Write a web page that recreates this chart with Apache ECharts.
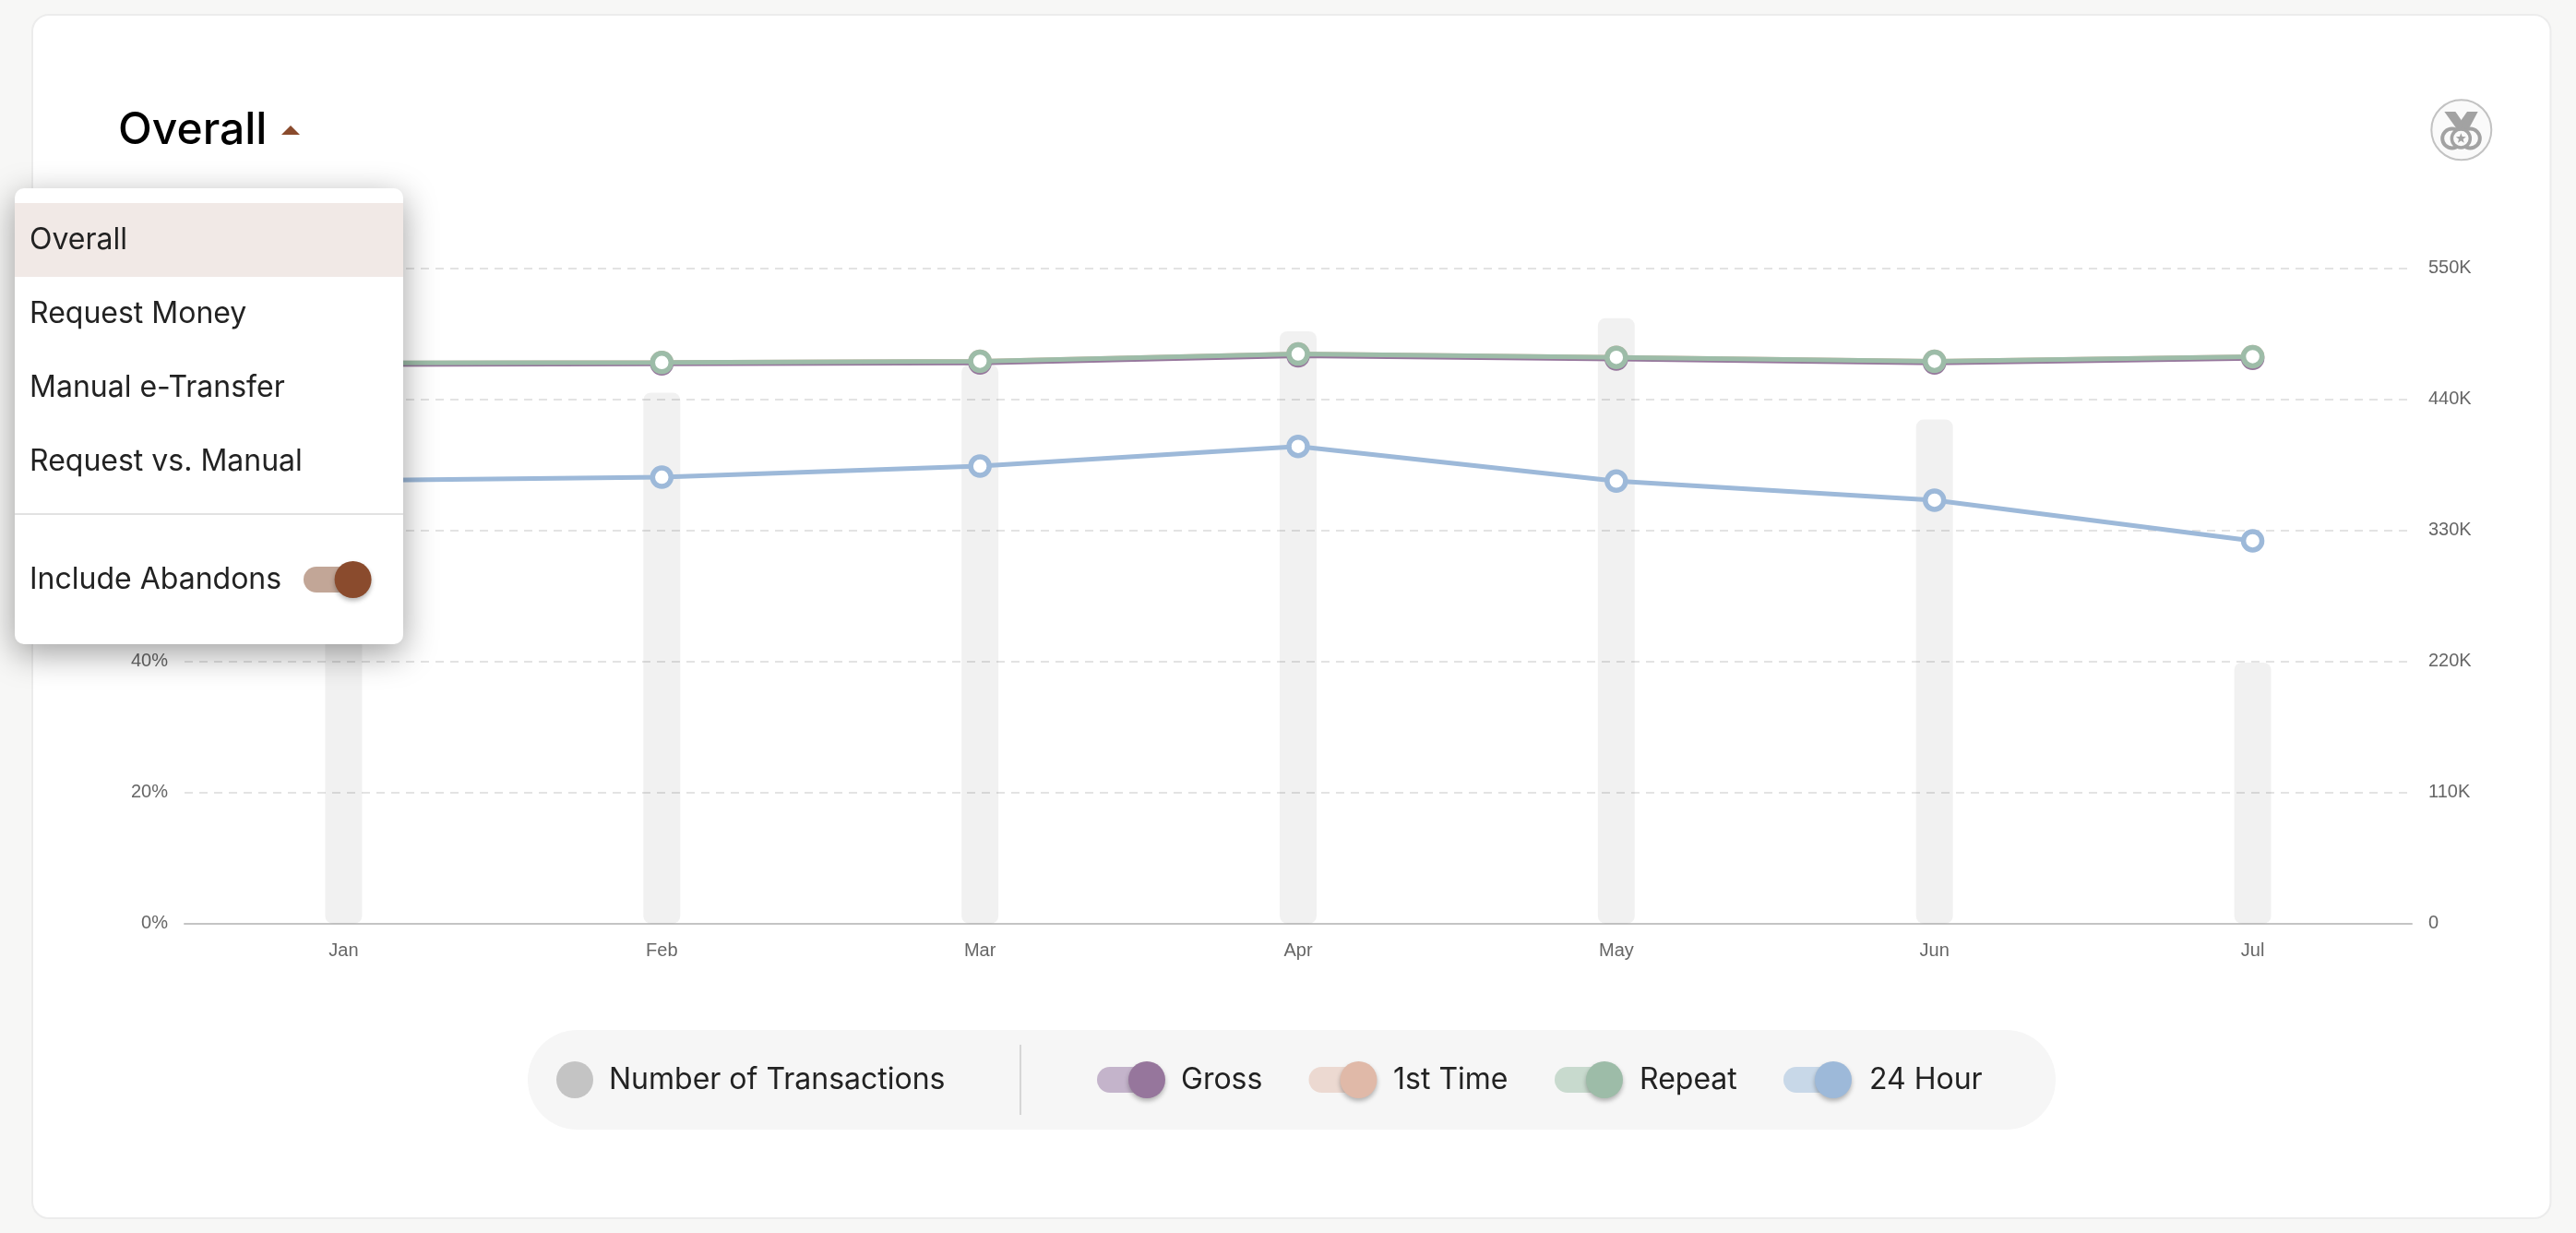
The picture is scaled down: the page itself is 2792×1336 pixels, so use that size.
<!DOCTYPE html>
<html>
<head>
<meta charset="utf-8">
<style>html,body{margin:0;padding:0;background:#f7f7f6}#c{width:2792px;height:1336px}</style>
<script src="https://cdn.jsdelivr.net/npm/echarts@6/dist/echarts.min.js"></script>
</head>
<body>
<div id="c"></div>
<script>
const months = ['Jan','Feb','Mar','Apr','May','Jun','Jul'];
const transactions = [465000,445500,469000,497000,508000,423000,219000];
const gross = [85.3,85.4,85.55,86.65,86.15,85.55,86.25];
const firstTime = [85.5,85.6,85.8,86.9,86.4,85.8,86.5];
const repeat = [85.55,85.6,85.8,86.9,86.4,85.8,86.5];
const hour24 = [67.6,68.1,69.8,72.8,67.5,64.6,58.4];
const menuItems = ['Overall','Request Money','Manual e-Transfer','Request vs. Manual'];
const leftTicks = {min:0,max:100,interval:20};
const rightTicks = {min:0,max:550000,interval:110000};

const C = {gross:'#96769c',first:'#e0b9a8',repeat:'#9dbca8',hour:'#9db9d9',brown:'#8a4b2d'};
const UI = 'Inter, "Noto Sans", sans-serif';
const AX = '"Liberation Sans", Arial, sans-serif';

function rect(x,y,w,h,r,fill,z,extra){return {type:'rect',silent:true,z:z,shape:{x,y,width:w,height:h,r:r},style:Object.assign({fill},extra||{})};}
function text(t,x,y,size,fill,z){return {type:'text',silent:true,z:z,style:{text:t,x,y,font:size+'px '+UI,fill,textAlign:'left',textVerticalAlign:'middle'}};}
function circle(cx,cy,r,fill,z,extra){return {type:'circle',silent:true,z:z,shape:{cx,cy,r},style:Object.assign({fill},extra||{})};}
function toggle(x,knobX,cy,pill,knob,z){
  return [
    rect(x,cy-14,knobX-x+6,28,14,pill,z),
    circle(knobX,cy,20,knob,z+1,{shadowBlur:5,shadowOffsetY:3,shadowColor:'rgba(0,0,0,.28)'})
  ];
}
const g = [];
// card
g.push(rect(35,16,2729.5,1304,18,'#ffffff',-5,{stroke:'#ececec',lineWidth:2}));
// title
g.push({type:'text',silent:true,z:5,style:{text:'Overall',x:128,y:142,font:'500 48px '+UI,fill:'#000',textVerticalAlign:'middle'}});
g.push({type:'polygon',silent:true,z:5,shape:{points:[[305,146],[325,146],[315,136]]},style:{fill:C.brown}});
// medal icon
const mx = v=>2620+v/3, my = v=>100+v/3;
const ICON = '#a2a2a2';
g.push(circle(2667.8,140.8,32.5,'#fafafa',5,{stroke:'#c2c2c2',lineWidth:2}));
g.push({type:'polygon',silent:true,z:6,shape:{points:[[88,63],[124,63],[162,118],[135,128]].map(p=>[mx(p[0]),my(p[1])])},style:{fill:ICON}});
g.push({type:'polygon',silent:true,z:6,shape:{points:[[197,63],[162,63],[143,90],[150,128],[168,118]].map(p=>[mx(p[0]),my(p[1])])},style:{fill:ICON}});
g.push(circle(mx(113),my(150),10.5,'none',6,{stroke:ICON,lineWidth:4}));
g.push(circle(mx(172),my(150),10.5,'none',6,{stroke:ICON,lineWidth:4}));
g.push(circle(mx(142),my(150),10,'#fafafa',7,{stroke:ICON,lineWidth:3.5}));
g.push({type:'polygon',silent:true,z:8,shape:{points:(function(){const a=[];for(let i=0;i<10;i++){const r=i%2?2.4:5.8,t=-Math.PI/2+i*Math.PI/5;a.push([mx(142)+r*Math.cos(t),my(150)+r*Math.sin(t)]);}return a;})()},style:{fill:ICON}});
// menu
g.push(rect(16,204,421,494,10,'#ffffff',100,{shadowBlur:36,shadowOffsetY:10,shadowColor:'rgba(0,0,0,.38)'}));
g.push(rect(16,220,421,80,0,'#f1e9e6',101));
menuItems.forEach((t,i)=>g.push(text(t,32,260+i*80,32,'#222222',102)));
g.push(rect(16,556,421,2,0,'#e2e2e2',101));
g.push(text('Include Abandons',32,628,32,'#222222',102));
g.push(...toggle(329,382.6,628,'#c2a697',C.brown,102));
// legend
g.push(rect(572,1116,1656,108,54,'#f6f6f6',5));
g.push(circle(623,1170,20,'#c4c4c4',6));
g.push(text('Number of Transactions',660,1170,32,'#222222',6));
g.push(rect(1105,1132,2,76,0,'#d6d6d6',6));
g.push(...toggle(1189,1243,1170,'#c4b4cb',C.gross,6));
g.push(text('Gross',1280,1170,32,'#222222',6));
g.push(...toggle(1418.5,1472.5,1170,'#ecd9d1',C.first,6));
g.push(text('1st Time',1510,1170,32,'#222222',6));
g.push(...toggle(1685,1739,1170,'#c8dace',C.repeat,6));
g.push(text('Repeat',1777,1170,32,'#222222',6));
g.push(...toggle(1933,1987,1170,'#c8d8e8',C.hour,6));
g.push(text('24 Hour',2026,1170,32,'#222222',6));

function lineSeries(name,data,color,z){
  return {name,type:'line',data,yAxisIndex:0,z,symbol:'circle',symbolSize:20,showSymbol:true,
    lineStyle:{color,width:5},itemStyle:{color:'#ffffff',borderColor:color,borderWidth:5.5},
    emphasis:{disabled:true}};
}
const chart = echarts.init(document.getElementById('c'),null,{renderer:'canvas',width:2792,height:1336,devicePixelRatio:1});
chart.setOption({
  animation:false,
  backgroundColor:'#f7f7f6',
  tooltip:{show:false},
  grid:{left:200,right:178,top:290.6,bottom:335.4,containLabel:false},
  xAxis:{type:'category',data:months,boundaryGap:true,
    axisLine:{lineStyle:{color:'#c4c4c4',width:2}},
    axisTick:{alignWithLabel:true,length:12,lineStyle:{color:'#cccccc',width:2}},
    axisLabel:{color:'#666666',fontFamily:AX,fontSize:20,margin:20},
    splitLine:{show:false}},
  yAxis:[
    {type:'value',position:'left',min:leftTicks.min,max:leftTicks.max,interval:leftTicks.interval,
      axisLine:{show:false},axisTick:{show:false},
      axisLabel:{color:'#666666',fontFamily:AX,fontSize:20,margin:18,formatter:v=>v+'%'},
      splitLine:{show:true,lineStyle:{color:'#e3e3e3',width:2,type:[9,7]}}},
    {type:'value',position:'right',min:rightTicks.min,max:rightTicks.max,interval:rightTicks.interval,
      axisLine:{show:false},axisTick:{show:false},
      axisLabel:{color:'#666666',fontFamily:AX,fontSize:20,margin:18,formatter:v=>v===0?'0':(v/1000)+'K'},
      splitLine:{show:false}}
  ],
  series:[
    {name:'Number of Transactions',type:'bar',data:transactions,yAxisIndex:1,barWidth:40,z:1,
      itemStyle:{color:'rgba(0,0,0,0.055)',borderRadius:8},emphasis:{disabled:true}},
    lineSeries('1st Time',firstTime,C.first,3),
    lineSeries('Gross',gross,C.gross,4),
    lineSeries('Repeat',repeat,C.repeat,5),
    lineSeries('24 Hour',hour24,C.hour,6)
  ],
  graphic:{elements:g}
});
</script>
</body>
</html>
